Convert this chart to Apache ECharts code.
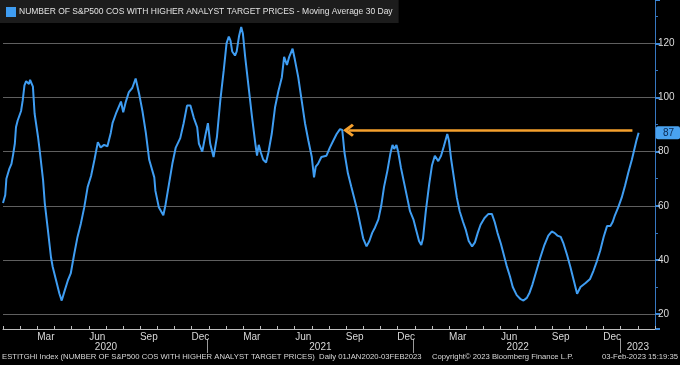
<!DOCTYPE html>
<html>
<head>
<meta charset="utf-8">
<script src="https://cdn.jsdelivr.net/npm/echarts@6/dist/echarts.min.js"></script>
<style>
html,body{margin:0;padding:0;background:#000;}
#chart{width:680px;height:365px;}
</style>
</head>
<body>
<div id="chart"></div>
<script>
const seriesName = 'NUMBER OF S&P500 COS WITH HIGHER ANALYST TARGET PRICES - Moving Average 30 Day';
const dates = [
'2020-01-01','2020-01-05','2020-01-07','2020-01-12','2020-01-16','2020-01-19','2020-01-22','2020-01-24','2020-01-27','2020-02-02',
'2020-02-05','2020-02-08','2020-02-11','2020-02-14','2020-02-16','2020-02-18','2020-02-20','2020-02-23','2020-02-26','2020-03-03',
'2020-03-06','2020-03-12','2020-03-15','2020-03-20','2020-03-26','2020-03-29','2020-04-04','2020-04-10','2020-04-14','2020-04-19',
'2020-04-25','2020-04-30','2020-05-06','2020-05-12','2020-05-18','2020-05-24','2020-05-30','2020-06-05','2020-06-11','2020-06-17',
'2020-06-22','2020-06-28','2020-07-04','2020-07-10','2020-07-13','2020-07-19','2020-07-28','2020-08-01','2020-08-05','2020-08-11',
'2020-08-17','2020-08-23','2020-08-29','2020-09-04','2020-09-10','2020-09-16','2020-09-25','2020-09-27','2020-10-03','2020-10-11',
'2020-10-15','2020-10-21','2020-10-27','2020-11-02','2020-11-10','2020-11-16','2020-11-22','2020-11-28','2020-12-04','2020-12-10',
'2020-12-13','2020-12-19','2020-12-24','2020-12-29','2021-01-02','2021-01-08','2021-01-14','2021-01-20','2021-01-26','2021-01-31',
'2021-02-04','2021-02-07','2021-02-10','2021-02-15','2021-02-18','2021-02-22','2021-02-26','2021-03-01','2021-03-05','2021-03-11',
'2021-03-17','2021-03-23','2021-03-26','2021-03-29','2021-04-02','2021-04-06','2021-04-11','2021-04-15','2021-04-21','2021-04-27',
'2021-05-03','2021-05-09','2021-05-13','2021-05-18','2021-05-22','2021-05-28','2021-06-01','2021-06-07','2021-06-13','2021-06-19',
'2021-06-25','2021-07-01','2021-07-05','2021-07-08','2021-07-12','2021-07-18','2021-07-27','2021-08-02','2021-08-08','2021-08-14',
'2021-08-20','2021-08-24','2021-08-28','2021-09-03','2021-09-09','2021-09-14','2021-09-20','2021-09-25','2021-09-30','2021-10-06',
'2021-10-11','2021-10-16','2021-10-21','2021-10-27','2021-11-01','2021-11-06','2021-11-12','2021-11-17','2021-11-21','2021-11-24',
'2021-11-28','2021-12-01','2021-12-06','2021-12-12','2021-12-17','2021-12-22','2021-12-28','2022-01-02','2022-01-07','2022-01-11',
'2022-01-14','2022-01-19','2022-01-25','2022-01-30','2022-02-04','2022-02-10','2022-02-15','2022-02-20','2022-02-26','2022-03-01',
'2022-03-05','2022-03-10','2022-03-15','2022-03-20','2022-03-26','2022-03-31','2022-04-05','2022-04-11','2022-04-16','2022-04-21',
'2022-04-26','2022-05-03','2022-05-10','2022-05-16','2022-05-21','2022-05-26','2022-06-01','2022-06-06','2022-06-11','2022-06-17',
'2022-06-22','2022-06-29','2022-07-06','2022-07-11','2022-07-17','2022-07-22','2022-07-27','2022-08-03','2022-08-10','2022-08-17',
'2022-08-24','2022-08-30','2022-09-04','2022-09-09','2022-09-15','2022-09-20','2022-09-26','2022-10-02','2022-10-08','2022-10-14',
'2022-10-20','2022-10-29','2022-11-06','2022-11-12','2022-11-18','2022-11-24','2022-11-30','2022-12-06','2022-12-12','2022-12-16',
'2022-12-20','2022-12-26','2023-01-01','2023-01-07','2023-01-13','2023-01-19','2023-01-23','2023-01-27','2023-01-31'
];
const values = [
61,64,70,73.5,75.5,79,83,89,91.5,95,
99,104.5,106,106,105,106.5,105.5,104,94,85.5,
80.5,69.5,61,52,41,37.5,32.5,27.5,25,28.5,
32.5,35,42,48.5,53.5,59.5,67,71,77,83.5,
81.5,82.5,82,87,90.5,94,98.5,94.5,98,102,
103.5,107,101.5,95,87,77,70.5,65.5,59.5,56.5,
60.5,68,75.5,81.5,85,90.5,97,97,92.5,89,
83,80,85.5,90.5,83,78,85.5,99,110,120,
122.5,121,117,115.5,117,122.5,126,123.5,115,104,
93,83,78.5,82.5,79.5,77,76,79.5,86.5,96.5,
102.5,107.5,115,112,115,118,114,107.5,99,90.5,
84,78,70.5,74.5,75.5,78,78.5,81.5,84,86.5,
88.3,88,79.5,72,67,63,58,53,48,45,
47,50,52,55,60,67,73,79,82.5,81,
82.5,80,74,68,63,58,55,51,47,45.5,
48,58,68,75,78.5,76.5,78.5,82,86.5,84,
77,70,63,58,54,51,47,45,46.5,50,
53,55.5,57,57,54,50,46,42,38,34,
30,27,25.5,25,26,28,31,36,41,45.5,
49,50.5,50,49,48.5,46,42,37.5,32.5,27.5,
30,31.5,33,36,39.5,43.5,48.5,52.5,52.5,54,
56.5,59.5,63,67.5,72.5,77,80.5,84,87
];
const lastValue = 87;
const arrowLevel = 87.9;
const arrowFrom = '2023-01-20';
const arrowTo = '2021-09-04';
const monthNames = ['Jan','Feb','Mar','Apr','May','Jun','Jul','Aug','Sep','Oct','Nov','Dec'];
const axisMonthCount = 38; // Jan 2020 .. Feb 2023
const shownMonths = ['Mar','Jun','Sep','Dec'];
const yearLabels = {6: '2020', 18.5: '2021', 30: '2022', 37: '2023'};
const footerLeft = 'ESTITGHI Index (NUMBER OF S&P500 COS WITH HIGHER ANALYST TARGET PRICES)  Daily 01JAN2020-03FEB2023';
const footerMid = 'Copyright\u00A9 2023 Bloomberg Finance L.P.';
const footerRight = '03-Feb-2023 15:19:35';

const monthCats = [];
for (let i = 0; i < axisMonthCount; i++) monthCats.push(monthNames[i % 12]);

const FONT = "'Liberation Sans',Arial,sans-serif";
const chart = echarts.init(document.getElementById('chart'), null, {renderer: 'canvas'});
const footStyle = {color: '#d8d8d8', fontSize: 7.7, fontWeight: 'normal', fontFamily: FONT};
const option = {
  backgroundColor: '#000',
  animation: false,
  textStyle: {fontFamily: FONT},
  title: [
    {text: footerLeft, left: 2, top: 353, padding: 0, textStyle: footStyle},
    {text: footerMid, left: 432, top: 353, padding: 0, textStyle: footStyle},
    {text: footerRight, right: 2, top: 353, padding: 0, textStyle: footStyle}
  ],
  legend: {
    left: 0, top: 0, padding: [7, 6, 6, 6],
    backgroundColor: '#1c1c1c',
    icon: 'rect', itemWidth: 10, itemHeight: 10, itemGap: 4,
    textStyle: {color: '#e2e2e2', fontSize: 8.5, fontFamily: FONT, padding: [0,0,0,-2]},
    data: [seriesName]
  },
  grid: [
    {left: 0, right: 25, top: 0, bottom: 36, containLabel: false},
    {left: 0, right: 25, top: 339, height: 14, containLabel: false}
  ],
  xAxis: [
    {type: 'time', gridIndex: 0, min: '2020-01-01', max: '2023-03-01', show: false},
    {type: 'category', gridIndex: 0, data: monthCats, boundaryGap: true, position: 'bottom',
     axisLine: {show: true, onZero: false, lineStyle: {color: '#bdbdbd', width: 1}},
     axisTick: {show: true, inside: true, length: 3, interval: 0, lineStyle: {color: '#bdbdbd'}},
     axisLabel: {show: true, color: '#d8d8d8', fontSize: 10, margin: 3, fontFamily: FONT,
       interval: function (idx, val) { return shownMonths.indexOf(val) >= 0; }},
     splitLine: {show: false}},
    {type: 'value', gridIndex: 0, min: 0, max: axisMonthCount, interval: 0.5, position: 'bottom',
     axisLine: {show: false, onZero: false}, axisTick: {show: false}, splitLine: {show: false},
     axisLabel: {show: true, color: '#d8d8d8', fontSize: 10, margin: 13, fontFamily: FONT,
       showMinLabel: true, showMaxLabel: true,
       formatter: function (v) { return yearLabels[v] || ''; }}},
    {type: 'value', gridIndex: 1, min: 0, max: axisMonthCount, interval: 12,
     axisLine: {show: false, onZero: false}, axisTick: {show: false}, axisLabel: {show: false},
     splitLine: {show: true, lineStyle: {color: ['rgba(0,0,0,0)', '#9a9a9a', '#9a9a9a', '#9a9a9a', 'rgba(0,0,0,0)'], width: 1}}}
  ],
  yAxis: [
    {type: 'value', gridIndex: 0, position: 'right', min: 14.5, max: 136, splitNumber: 6,
     axisLine: {show: true, onZero: false, lineStyle: {color: '#3677c0', width: 1}},
     axisTick: {show: true, length: 5, lineStyle: {color: '#3f8ad8', width: 2}},
     minorTick: {show: true, splitNumber: 2, length: 3, lineStyle: {color: '#3677c0', width: 1}},
     splitLine: {show: true, showMinLine: false, showMaxLine: false, lineStyle: {color: '#5f5f5f', width: 1}},
     axisLabel: {show: true, color: '#dcdcdc', fontSize: 10, margin: 3, fontFamily: FONT,
       showMinLabel: false, showMaxLabel: false,
       formatter: function (v) { return (v % 20 === 0) ? String(v) : ''; }},
     axisPointer: {show: true, value: lastValue, status: 'show', triggerTooltip: false, type: 'line',
       lineStyle: {opacity: 0},
       label: {show: true, backgroundColor: '#49a2f0', color: '#0b2850', fontSize: 10, fontFamily: FONT,
         padding: [2, 6, 1, 7], margin: 2, borderRadius: 2,
         formatter: function (p) { return String(Math.round(p.value)); }}}},
    {type: 'value', gridIndex: 1, show: false, min: 0, max: 1}
  ],
  series: [{
    name: seriesName, type: 'line', xAxisIndex: 0, yAxisIndex: 0,
    data: dates.map(function (d, i) { return [d, values[i]]; }),
    showSymbol: false, symbol: 'none',
    lineStyle: {color: '#3f9df2', width: 2},
    itemStyle: {color: '#3f9df2'},
    markLine: {
      silent: true, animation: false,
      symbol: ['none', 'path://M5,0 L10,7 L8.4,8.6 L5,4 L1.6,8.6 L0,7 Z'],
      symbolSize: [13, 11],
      label: {show: false},
      lineStyle: {color: '#f5a02d', width: 2.5, type: 'solid'},
      data: [[{coord: [arrowFrom, arrowLevel]}, {coord: [arrowTo, arrowLevel]}]]
    }
  }]
};
chart.setOption(option);
</script>
</body>
</html>
